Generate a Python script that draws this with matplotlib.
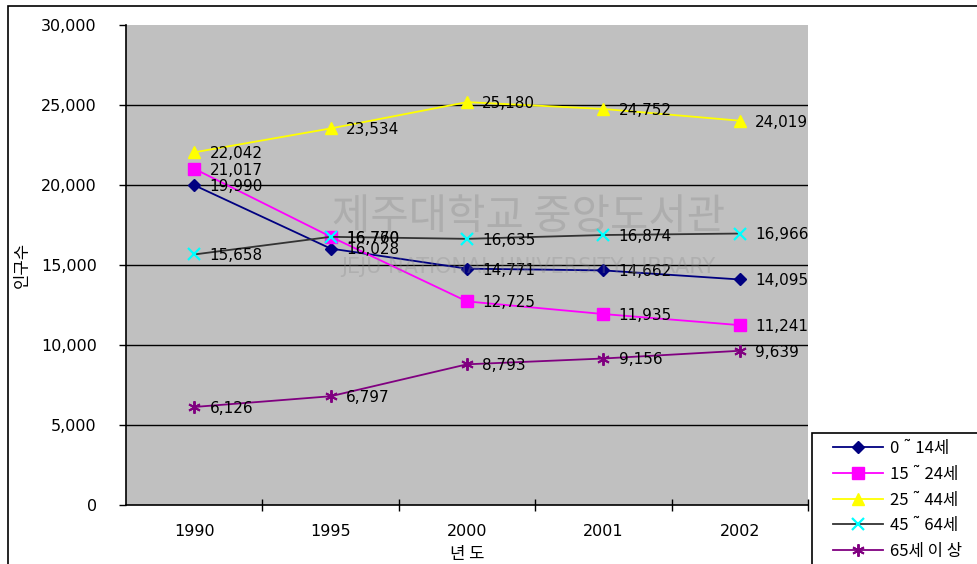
import numpy as np
import matplotlib.pyplot as plt
from matplotlib.patches import Rectangle

years = ["1990", "1995", "2000", "2001", "2002"]
age_0_14 = [19990, 16028, 14771, 14662, 14095]
age_15_24 = [21017, 16770, 12725, 11935, 11241]
age_25_44 = [22042, 23534, 25180, 24752, 24019]
age_45_64 = [15658, 16760, 16635, 16874, 16966]
age_65_up = [6126, 6797, 8793, 9156, 9639]

series_labels = ["0 ˜ 14세", "15 ˜ 24세", "25 ˜ 44세", "45 ˜ 64세", "65세 이 상"]

KR = ["Noto Sans CJK KR", "DejaVu Sans"]
W, H = 978, 564

fig = plt.figure(figsize=(W / 100, H / 100), dpi=100)
ax = fig.add_axes([126 / W, 1 - 505 / H, (808 - 126) / W, (505 - 25) / H])
ax.set_facecolor("#c0c0c0")

x = np.arange(len(years))
styles = [
    dict(color="#000080", marker="D", ms=6, mfc="#000080", mec="#000080"),
    dict(color="#ff00ff", marker="s", ms=8, mfc="#ff00ff", mec="#ff00ff"),
    dict(color="#ffff00", marker="^", ms=8, mfc="#ffff00", mec="#ffff00"),
    dict(color="#333333", marker="x", ms=8, mfc="#00ffff", mec="#00ffff", mew=1.6),
    dict(color="#800080", marker=(6, 2, 0), ms=9, mfc="#800080", mec="#800080", mew=1.4),
]
data = [age_0_14, age_15_24, age_25_44, age_45_64, age_65_up]

# grid lines under everything
for v in range(5000, 30000, 5000):
    ax.axhline(v, color="black", lw=1, zorder=1)

handles = []
for vals, st, lab in zip(data, styles, series_labels):
    h, = ax.plot(x, vals, lw=1.3, zorder=3, label=lab, **st)
    handles.append(h)
    for xi, v in zip(x, vals):
        ax.annotate(f"{v:,}", (xi, v), xytext=(11, -1), textcoords="offset points",
                    ha="left", va="center", fontsize=11, color="black",
                    family="DejaVu Sans", zorder=4)

# library watermark
ax.text(2.45, 17950, "제주대학교 중앙도서관", family=KR, fontsize=30, color="#8a8a8a",
        alpha=0.35, ha="center", va="center", zorder=5)
ax.text(2.45, 14900, "JEJU NATIONAL UNIVERSITY LIBRARY", family="DejaVu Sans", fontsize=15,
        color="#8a8a8a", alpha=0.3, ha="center", va="center", zorder=5)

ax.set_xlim(-0.5, 4.5)
ax.set_ylim(0, 30000)
ax.set_yticks(range(0, 30001, 5000))
ax.set_yticklabels([f"{v:,}" for v in range(0, 30001, 5000)], family="DejaVu Sans", fontsize=11.5)
ax.set_xticks(x)
ax.set_xticklabels(years, family="DejaVu Sans", fontsize=11.5)
ax.set_xticks([0.5, 1.5, 2.5, 3.5, 4.5], minor=True)
ax.tick_params(axis="x", which="major", length=0, pad=13.5)
ax.tick_params(axis="x", which="minor", length=8, direction="inout", width=1)
ax.tick_params(axis="y", length=5, width=1, pad=16, direction="out")
ax.spines["top"].set_visible(False)
ax.spines["right"].set_visible(False)
ax.spines["left"].set_linewidth(1.2)
ax.spines["bottom"].set_linewidth(1.2)

fig.text(22 / W, 1 - 265 / H, "인구수", family=KR, fontsize=12, rotation=90,
         ha="center", va="center")
fig.text(467 / W, 1 - 554 / H, "년 도", family=KR, fontsize=12, ha="center", va="center")

# chart border and legend box
fig.patches.append(Rectangle((8 / W, -0.1), 1.2, 1 - 6 / H + 0.1, transform=fig.transFigure,
                             fill=False, ec="black", lw=1.2, zorder=0))
fig.patches.append(Rectangle((812 / W, -0.1), 0.3, 1 - 433 / H + 0.1, transform=fig.transFigure,
                             fc="white", ec="black", lw=1.2, zorder=2))

leg = fig.legend(handles=handles, loc="upper left", bbox_to_anchor=(824 / W, 1 - 431 / H),
                 frameon=False, prop={"family": KR, "size": 12}, handlelength=3.0,
                 labelspacing=0.52, handletextpad=0.4, borderpad=0.05)
leg.set_zorder(3)

fig.savefig("out.png", dpi=100)
